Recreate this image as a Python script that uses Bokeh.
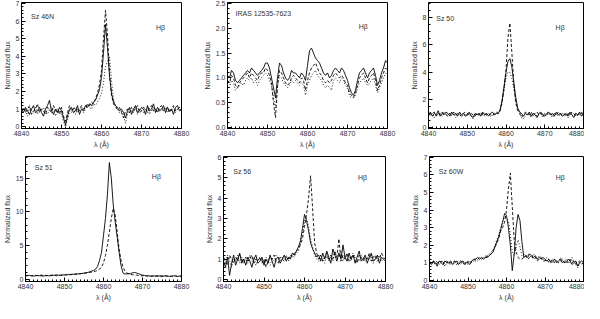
import numpy as np
from bokeh.plotting import figure
from bokeh.layouts import column, row
from bokeh.models import FixedTicker, Label, PrintfTickFormatter, Range1d
from bokeh.embed import file_html
from bokeh.resources import INLINE

# wavelength sampling (Angstrom)
wl = np.arange(4840.0, 4880.01, 0.5)

x_ticks = [4840, 4850, 4860, 4870, 4880]

# ---------------- Sz 46N ----------------
sz46n_solid = [1.0,0.8,1.1,0.9,0.7,1.0,1.2,0.8,0.9,1.1,
 0.8,0.6,1.0,1.2,1.5,0.9,0.7,1.0,0.8,1.1,
 0.9,0.5,0.1,0.6,1.0,1.1,0.8,0.9,1.2,0.7,
 1.0,0.9,1.2,1.1,1.3,1.2,1.4,1.5,1.8,2.1,
 2.8,4.2,5.8,4.5,2.9,1.9,1.4,1.2,1.1,0.9,
 1.0,0.8,0.5,0.9,1.1,0.7,1.0,1.2,0.8,0.9,
 1.1,1.0,0.7,1.2,0.9,1.0,1.3,0.8,1.1,0.9,
 1.0,1.2,0.8,1.1,0.9,1.0,0.7,1.1,1.2,0.9,1.0]
sz46n_dashed = [0.9,1.1,0.8,1.0,1.2,0.7,0.9,1.0,1.3,0.8,
 1.0,0.9,0.7,1.1,1.0,0.8,1.2,0.9,1.0,0.7,
 1.1,0.6,0.3,0.8,1.2,0.9,1.0,1.1,0.8,1.0,
 1.2,1.0,1.1,1.3,1.2,1.4,1.3,1.6,1.9,2.4,
 3.2,5.0,6.6,5.2,3.0,1.8,1.3,1.1,1.0,1.1,
 0.8,0.5,0.9,1.0,0.8,1.1,0.9,1.0,1.2,0.8,
 0.9,1.1,1.0,0.8,1.1,1.2,0.9,1.0,0.8,1.1,
 1.2,0.9,1.0,1.1,0.8,1.0,1.2,0.9,1.0,1.1,0.9]
sz46n_dotted = [0.8,1.0,0.9,0.6,1.1,0.9,0.8,1.1,0.7,1.0,
 0.9,1.1,0.8,0.7,1.0,1.1,0.9,0.6,1.0,0.9,
 0.7,0.3,0.0,0.4,0.9,0.8,1.1,0.7,1.0,0.9,
 1.1,0.8,1.0,1.2,1.1,1.0,1.3,1.2,1.4,1.6,
 1.9,2.5,3.4,3.7,4.0,2.6,1.6,1.2,1.0,0.8,
 0.9,0.6,0.2,0.7,1.0,0.9,0.8,1.1,0.7,1.0,
 0.9,0.8,1.0,1.1,0.7,0.9,1.1,1.0,0.8,1.0,
 0.9,1.0,1.1,0.8,1.0,0.9,1.1,0.8,1.0,1.1,0.8]

# ---------------- IRAS 12535-7623 ----------------
iras_solid = [1.05,1.0,1.15,1.1,0.95,0.9,0.95,1.0,1.05,1.1,
 1.15,1.1,1.2,1.15,1.1,1.05,1.1,1.15,1.2,1.3,
 1.3,1.2,1.0,0.8,0.6,1.0,1.3,1.25,1.1,1.0,
 0.95,1.0,1.15,1.1,1.1,1.05,1.0,1.1,1.05,0.95,
 1.25,1.55,1.6,1.5,1.4,1.35,1.3,1.2,1.1,1.05,
 1.1,1.0,1.05,1.15,1.2,1.15,1.1,1.2,1.15,1.05,
 0.95,0.8,0.7,0.65,0.75,0.95,1.1,1.15,1.2,1.1,
 1.0,1.1,1.15,1.2,1.05,0.85,0.95,1.1,1.2,1.35,1.3]
iras_dashed = [0.95,0.9,1.05,1.0,0.85,0.8,0.9,0.95,1.0,1.05,
 1.1,1.0,1.1,1.05,1.0,0.95,1.05,1.1,1.1,1.2,
 1.15,1.05,0.9,0.5,0.2,0.85,1.15,1.1,1.0,0.9,
 0.85,0.9,1.0,1.05,1.0,0.95,0.9,1.0,0.95,0.75,
 0.95,1.1,1.2,1.25,1.3,1.2,1.1,1.05,0.95,0.9,
 0.95,0.9,0.95,1.05,1.1,1.05,1.0,1.05,1.0,0.9,
 0.85,0.7,0.65,0.6,0.7,0.85,1.0,1.05,1.1,1.0,
 0.9,1.0,1.05,1.1,0.95,0.75,0.85,1.0,1.1,1.2,1.15]
iras_dotted = [0.85,0.8,0.95,0.9,0.75,0.8,0.85,0.9,0.85,0.95,
 1.0,0.95,1.0,0.9,0.95,0.85,0.95,1.0,1.05,1.1,
 1.05,0.95,0.85,0.6,0.4,0.8,1.05,1.0,0.9,0.85,
 0.8,0.85,0.95,0.9,0.95,0.9,0.85,0.9,0.85,0.65,
 0.85,0.95,1.05,1.1,1.15,1.05,1.0,0.95,0.85,0.8,
 0.85,0.8,0.75,0.95,1.0,0.95,0.9,1.0,0.95,0.85,
 0.8,0.65,0.6,0.6,0.65,0.8,0.9,0.95,1.0,0.9,
 0.85,0.9,0.95,1.0,0.85,0.7,0.8,0.9,1.0,1.1,1.05]

# ---------------- Sz 50 ----------------
sz50_solid = [0.9,1.1,0.8,1.0,0.9,1.2,0.8,1.0,0.9,1.1,
 1.0,0.8,1.1,0.9,1.0,0.8,1.1,0.9,1.0,0.8,
 0.9,1.1,0.8,0.7,1.0,0.9,1.0,0.8,1.1,0.9,
 1.0,0.8,1.0,1.1,0.9,1.0,1.0,1.3,2.0,3.0,
 4.0,4.8,5.0,4.4,3.3,2.2,1.4,1.1,1.0,0.8,
 1.0,0.9,1.1,0.8,1.0,0.9,0.7,1.0,1.1,0.9,
 0.8,1.0,1.1,0.9,1.0,0.8,1.1,0.9,1.0,0.8,
 0.9,1.0,0.8,1.1,0.9,0.7,1.0,0.9,1.1,0.8,1.0]
sz50_dashed = [1.0,0.9,1.0,1.1,0.8,1.0,0.9,1.1,1.0,0.9,
 0.8,1.0,0.9,1.1,0.9,1.0,0.9,0.8,1.0,1.1,
 1.0,0.9,1.0,0.9,0.8,1.0,0.9,1.1,0.9,1.0,
 0.9,1.0,0.9,0.8,1.0,1.1,1.0,1.2,1.8,2.8,
 4.2,6.5,7.6,5.5,3.2,1.8,1.2,1.0,0.7,0.9,
 1.1,1.0,0.9,1.1,0.8,1.0,1.1,0.9,1.0,0.8,
 1.0,0.9,1.1,1.0,0.8,1.0,0.9,1.1,1.0,0.9,
 1.0,0.8,1.0,0.9,1.1,1.0,0.8,0.9,1.0,1.1,0.9]
sz50_dotted = [0.8,1.0,0.9,0.7,1.0,0.9,1.0,0.8,1.1,0.9,
 0.9,1.0,0.8,1.0,0.7,0.9,1.0,0.9,0.8,1.0,
 0.8,1.0,0.9,0.6,0.9,1.0,0.8,0.9,1.0,0.8,
 0.9,1.0,0.8,0.9,1.0,0.9,1.0,1.2,1.9,2.8,
 3.6,4.0,4.0,3.6,2.8,2.0,1.4,1.1,0.9,0.6,
 0.8,1.0,0.9,0.7,0.9,1.0,0.8,0.9,1.0,0.7,
 0.9,0.8,1.0,0.9,0.7,0.9,1.0,0.8,0.9,1.0,
 0.8,0.9,0.7,1.0,0.8,0.9,1.0,0.8,0.9,1.0,0.8]

# ---------------- Sz 51 ----------------
sz51_solid = [0.5,0.5,0.55,0.5,0.45,0.5,0.55,0.5,0.5,0.45,
 0.5,0.55,0.5,0.5,0.6,0.55,0.5,0.6,0.55,0.6,
 0.65,0.6,0.7,0.65,0.7,0.75,0.7,0.8,0.8,0.85,
 0.9,0.95,1.0,1.1,1.2,1.3,1.5,1.9,2.8,4.0,
 6.5,9.0,12.5,17.3,15.0,11.0,8.5,6.3,4.0,2.0,
 0.9,0.75,0.8,0.8,0.85,0.95,1.0,0.9,0.8,0.7,
 0.6,0.55,0.5,0.5,0.45,0.5,0.45,0.5,0.5,0.45,
 0.5,0.45,0.5,0.45,0.4,0.45,0.5,0.45,0.4,0.45,0.5]
sz51_dashed = [0.6,0.55,0.6,0.5,0.55,0.6,0.5,0.55,0.6,0.55,
 0.6,0.5,0.55,0.6,0.55,0.6,0.65,0.55,0.6,0.65,
 0.6,0.7,0.65,0.7,0.75,0.7,0.8,0.75,0.8,0.85,
 0.85,0.9,0.95,1.0,1.05,1.1,1.2,1.3,1.5,1.8,
 2.4,3.5,5.0,7.0,9.0,10.5,9.5,7.0,4.5,2.8,
 1.8,1.2,0.9,0.8,0.7,0.65,0.6,0.6,0.55,0.5,
 0.5,0.55,0.45,0.5,0.45,0.4,0.5,0.45,0.4,0.45,
 0.4,0.45,0.5,0.4,0.45,0.4,0.45,0.5,0.4,0.45,0.4]

# ---------------- Sz 56 ----------------
sz56_solid = [0.9,0.6,1.1,0.2,0.8,1.2,0.7,1.0,1.3,0.8,
 1.0,0.7,1.1,0.9,0.6,1.0,1.2,0.8,0.9,1.1,
 0.7,1.0,0.8,1.2,0.9,0.6,1.0,1.1,0.8,1.0,
 1.2,0.9,1.1,1.0,1.3,1.2,1.4,1.6,1.9,2.5,
 3.2,2.9,2.4,1.8,1.5,1.3,1.1,1.2,0.9,1.3,
 1.0,1.4,1.1,0.8,1.5,1.2,0.9,1.3,1.0,1.7,
 1.1,0.9,1.3,1.0,1.2,0.8,1.1,1.4,0.9,1.0,
 1.2,0.8,1.1,1.3,0.9,1.0,1.2,0.8,1.1,1.0,0.9]
sz56_dashed = [1.1,0.9,0.7,1.2,1.0,0.8,1.1,0.9,1.2,1.0,
 0.8,1.1,0.9,1.0,1.2,0.8,1.0,0.9,1.1,0.8,
 1.0,0.6,0.9,1.1,1.0,1.2,0.9,0.8,1.1,1.0,
 0.9,1.1,1.0,1.2,1.1,1.3,1.4,1.5,1.7,2.0,
 2.6,3.2,4.0,5.1,3.5,1.8,1.3,1.0,1.2,0.9,
 1.1,1.3,0.9,1.2,1.0,1.4,1.1,2.0,0.9,1.2,
 1.0,1.3,0.9,1.1,1.2,1.0,0.8,1.2,1.1,0.9,
 1.1,1.0,1.3,0.9,1.1,1.2,0.9,1.0,1.3,1.1,1.0]
sz56_dotted = [0.8,1.0,1.2,0.9,0.6,1.0,0.9,1.2,0.8,1.1,
 0.9,1.0,0.8,1.2,0.9,1.1,0.7,1.0,1.1,0.9,
 0.8,1.1,0.9,0.7,1.0,0.9,1.2,1.0,0.9,1.1,
 1.0,1.2,0.9,1.1,1.2,1.1,1.3,1.4,1.8,2.3,
 2.9,3.0,2.6,2.0,1.6,1.2,1.0,0.9,1.1,1.0,
 0.8,1.2,1.0,1.1,0.9,1.3,1.0,1.1,1.4,0.9,
 1.2,1.0,1.1,0.9,1.3,1.1,1.0,0.9,1.2,1.1,
 0.9,1.1,1.0,1.2,0.8,1.1,1.0,1.2,0.9,1.0,1.1]

# ---------------- Sz 60W ----------------
sz60w_solid = [1.0,0.9,1.1,1.0,0.8,1.1,1.0,0.9,1.1,1.0,
 1.0,1.1,0.9,1.0,1.1,0.9,1.0,1.1,0.9,1.0,
 1.0,0.9,1.1,1.2,1.2,1.3,1.2,1.3,1.2,1.3,
 1.3,1.4,1.5,1.6,1.9,2.2,2.5,2.9,3.3,3.8,
 3.7,3.0,2.0,0.55,1.5,3.0,3.75,3.4,2.2,1.3,
 1.4,1.3,1.5,1.4,1.3,1.4,1.2,1.3,1.2,1.3,
 1.2,1.1,1.2,1.0,1.1,1.2,1.0,1.1,1.2,1.0,
 1.1,1.0,1.2,1.1,0.9,1.0,1.1,0.8,1.0,1.1,1.0]
sz60w_dashed = [0.9,1.0,1.1,0.9,1.0,1.0,1.1,0.9,1.0,1.1,
 0.9,1.0,1.0,1.1,0.9,1.0,1.1,1.0,1.0,0.9,
 1.1,1.0,1.1,1.2,1.1,1.2,1.3,1.2,1.3,1.3,
 1.4,1.4,1.5,1.7,1.9,2.1,2.4,2.8,3.0,3.3,
 4.0,5.2,6.1,4.2,2.3,1.6,1.3,1.2,1.2,1.3,
 1.4,1.2,1.3,1.4,1.2,1.3,1.1,1.2,1.3,1.1,
 1.1,1.2,1.0,1.1,1.2,1.0,1.1,1.0,1.1,1.2,
 1.0,1.1,1.0,1.2,1.0,1.1,0.9,1.0,1.1,1.0,0.9]
sz60w_dotted = [1.1,1.0,0.9,1.0,1.1,0.9,1.0,1.1,0.8,1.0,
 1.1,0.9,1.0,1.1,1.0,1.1,0.9,1.0,1.1,1.0,
 0.9,1.1,1.0,1.1,1.2,1.1,1.2,1.3,1.2,1.4,
 1.3,1.5,1.6,1.7,2.0,2.3,2.6,3.0,3.4,3.6,
 3.5,3.4,2.6,1.6,1.4,1.9,2.3,1.9,1.4,1.5,
 1.3,1.5,1.4,1.3,1.5,1.3,1.2,1.4,1.3,1.2,
 1.1,1.3,1.2,1.1,1.0,1.2,1.1,1.0,1.3,1.1,
 1.0,1.2,1.1,1.0,1.3,1.0,1.1,0.7,1.0,0.9,1.1]

TXT = "#333333"
FONT = "Liberation Sans"

panels = [
    dict(name="Sz 46N", series=[sz46n_solid, sz46n_dashed, sz46n_dotted],
         yr=(-0.1, 7.05), yt=[0,1,2,3,4,5,6,7], ym=0.2, fmt="%d",
         w=196, h=150, l=21, r=15, t=2, b=10, lab=(0.06, 0.89), hb=(0.84, 0.80)),
    dict(name="IRAS 12535-7623", series=[iras_solid, iras_dashed, iras_dotted],
         yr=(-0.02, 2.52), yt=[0.0,0.5,1.0,1.5,2.0,2.5], ym=0.1, fmt="%.1f",
         w=210, h=150, l=31, r=19, t=2, b=10, lab=(0.05, 0.91), hb=(0.82, 0.81)),
    dict(name="Sz 50", series=[sz50_solid, sz50_dashed, sz50_dotted],
         yr=(-0.1, 9.1), yt=[0,2,4,6,8], ym=0.5, fmt="%d",
         w=178, h=150, l=22, r=1, t=2, b=10, lab=(0.05, 0.87), hb=(0.82, 0.80)),
    dict(name="Sz 51", series=[sz51_solid, sz51_dashed],
         yr=(-0.35, 18.2), yt=[0,5,10,15], ym=1.0, fmt="%d",
         w=196, h=153, l=21, r=15, t=6, b=10, lab=(0.06, 0.91), hb=(0.81, 0.84)),
    dict(name="Sz 56", series=[sz56_solid, sz56_dashed, sz56_dotted],
         yr=(-0.1, 6.05), yt=[0,1,2,3,4,5,6], ym=0.2, fmt="%d",
         w=210, h=153, l=27, r=21, t=6, b=10, lab=(0.06, 0.88), hb=(0.83, 0.83)),
    dict(name="Sz 60W", series=[sz60w_solid, sz60w_dashed, sz60w_dotted],
         yr=(-0.07, 7.05), yt=[0,1,2,3,4,5,6,7], ym=0.2, fmt="%d",
         w=178, h=153, l=23, r=1, t=6, b=10, lab=(0.06, 0.88), hb=(0.82, 0.83)),
]

dashes = ["solid", "3 2", "1 2"]
xr = (4840, 4880)


def style_axis(ax):
    ax.major_tick_in = 4
    ax.major_tick_out = 0
    ax.minor_tick_in = 2
    ax.minor_tick_out = 0
    ax.axis_line_color = "black"
    ax.axis_line_width = 1
    ax.major_tick_line_color = "black"
    ax.minor_tick_line_color = "black"
    ax.major_label_text_font = FONT
    ax.major_label_text_font_size = "7px"
    ax.major_label_text_color = TXT
    ax.major_label_standoff = 2
    ax.axis_label_text_font = FONT
    ax.axis_label_text_font_size = "7px"
    ax.axis_label_text_font_style = "normal"
    ax.axis_label_text_color = TXT
    ax.axis_label_standoff = 2


figs = []
for pd_ in panels:
    p = figure(width=pd_["w"], height=pd_["h"], output_backend="svg", toolbar_location=None,
               x_range=Range1d(*xr), y_range=Range1d(*pd_["yr"]),
               min_border_left=pd_["l"], min_border_right=pd_["r"],
               min_border_top=pd_["t"], min_border_bottom=pd_["b"],
               x_axis_label="λ (Å)", y_axis_label="Normalized flux")
    p.grid.visible = False
    p.outline_line_color = "black"
    p.outline_line_alpha = 1.0
    p.background_fill_color = "white"
    p.border_fill_color = "white"

    yt = pd_["yt"]
    ymin_t = []
    v = yt[0]
    while v <= pd_["yr"][1] + 1e-9:
        ymin_t.append(round(v, 4))
        v += pd_["ym"]
    p.xaxis.ticker = FixedTicker(ticks=x_ticks, minor_ticks=list(range(4840, 4881)))
    p.yaxis.ticker = FixedTicker(ticks=yt, minor_ticks=ymin_t)
    p.yaxis.formatter = PrintfTickFormatter(format=pd_["fmt"])
    p.xaxis.formatter = PrintfTickFormatter(format="%d")
    for ax in p.xaxis + p.yaxis:
        style_axis(ax)

    for s, d in zip(pd_["series"], dashes):
        p.line(wl, s, line_color="black", line_width=0.9, line_dash=d)

    x0, x1 = xr
    y0, y1 = pd_["yr"]
    p.add_layout(Label(x=x0 + pd_["lab"][0] * (x1 - x0), y=y0 + pd_["lab"][1] * (y1 - y0),
                       text=pd_["name"], text_font=FONT, text_font_size="7px",
                       text_color=TXT, text_baseline="middle", text_align="left"))
    p.add_layout(Label(x=x0 + pd_["hb"][0] * (x1 - x0), y=y0 + pd_["hb"][1] * (y1 - y0),
                       text="Hβ", text_font=FONT, text_font_size="7px",
                       text_color=TXT, text_baseline="middle", text_align="left"))
    figs.append(p)

layout = column(row(figs[0], figs[1], figs[2]), row(figs[3], figs[4], figs[5]))

open("out.html", "w").write(file_html(layout, INLINE))
